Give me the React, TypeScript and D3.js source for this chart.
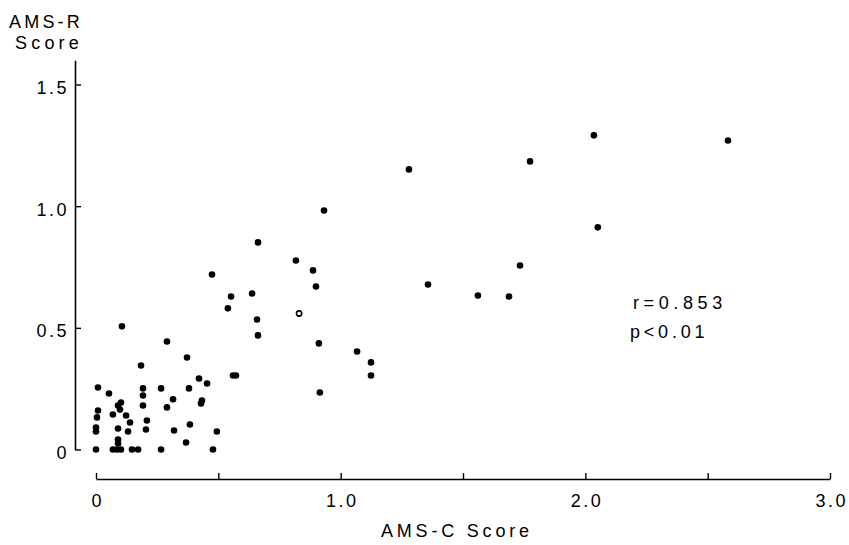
import React, { useEffect, useRef } from "react";
import * as d3 from "d3";

const amsC = [
  1.279, 1.774, 2.035, 2.583, 2.051, 1.733, 1.357, 1.561, 1.688, 0.932,
  0.662, 0.817, 0.887, 0.899, 0.474, 0.552, 0.638, 0.539, 0.658, 0.662,
  0.29, 0.911, 1.067, 1.124, 1.124, 0.372, 0.421, 0.454, 0.38, 0.266,
  0.315, 0.29, 0.433, 0.429, 0.56, 0.572, 0.915, 0.106, 0.184, 0.008,
  0.053, 0.192, 0.192, 0.102, 0.09, 0.098, 0.192, 0.008, 0.004, 0.069,
  0.123, 0.139, 0.208, 0.0, 0.0, 0.09, 0.131, 0.204, 0.319, 0.384,
  0.494, 0.09, 0.09, 0.368, 0.0, 0.069, 0.086, 0.102, 0.147, 0.172,
  0.266, 0.478,
];
const amsR = [
  1.151, 1.184, 1.291, 1.27, 0.913, 0.756, 0.678, 0.633, 0.629, 0.982,
  0.851, 0.777, 0.736, 0.67, 0.719, 0.629, 0.641, 0.58, 0.534, 0.469,
  0.444, 0.436, 0.403, 0.358, 0.304, 0.378, 0.292, 0.271, 0.251, 0.251,
  0.206, 0.173, 0.201, 0.189, 0.304, 0.304, 0.234, 0.506, 0.345, 0.255,
  0.23, 0.251, 0.222, 0.193, 0.181, 0.164, 0.181, 0.16, 0.132, 0.144,
  0.14, 0.111, 0.119, 0.09, 0.074, 0.086, 0.074, 0.082, 0.078, 0.103,
  0.074, 0.041, 0.025, 0.029, 0, 0, 0, 0, 0, 0,
  0, 0,
];
// the single open (hollow) point
const openC = [0.83];
const openR = [0.559];

const xTicks = [0, 0.5, 1.0, 1.5, 2.0, 2.5, 3.0];
const xTickLabels = ["0", "", "1.0", "", "2.0", "", "3.0"];
const yTicks = [0, 0.5, 1.0, 1.5];
const yTickLabels = ["0", "0.5", "1.0", "1.5"];

const FONT = "'Liberation Sans', Arial, Helvetica, sans-serif";

export default function App() {
  const ref = useRef<SVGSVGElement | null>(null);

  useEffect(() => {
    const svg = d3.select(ref.current);
    svg.selectAll("*").remove();

    const x = d3.scaleLinear().domain([0, 3]).range([96, 830]);
    const y = d3.scaleLinear().domain([0, 1.5]).range([449.5, 84.5]);
    const yTop = y(1.6);

    // X axis
    const xAxis = d3
      .axisBottom(x)
      .tickValues(xTicks)
      .tickSizeInner(-6)
      .tickSizeOuter(0)
      .tickFormat((_d, i) => xTickLabels[i]);
    const gx = svg.append("g").attr("transform", "translate(0,479)").call(xAxis);
    gx.select(".domain").attr("stroke", "#000").attr("stroke-width", 1.6);
    gx.selectAll(".tick line").attr("stroke", "#000").attr("stroke-width", 1.4);
    gx.selectAll(".tick text")
      .attr("y", 28)
      .attr("dy", 0)
      .attr("dx", 1.2)
      .attr("fill", "#000")
      .style("font-family", FONT)
      .style("font-size", "18px")
      .style("letter-spacing", "2.5px");

    // Y axis
    const yAxis = d3
      .axisLeft(y.copy().domain([0, 1.6]).range([449.5, yTop]))
      .tickValues(yTicks)
      .tickSizeInner(-6)
      .tickSizeOuter(0)
      .tickFormat((_d, i) => yTickLabels[i]);
    const gy = svg.append("g").attr("transform", "translate(75,0)").call(yAxis);
    gy.select(".domain").attr("stroke", "#000").attr("stroke-width", 1.6);
    gy.selectAll(".tick line").attr("stroke", "#000").attr("stroke-width", 1.4);
    gy.selectAll(".tick text")
      .attr("x", -6)
      .attr("dy", 9)
      .attr("fill", "#000")
      .style("font-family", FONT)
      .style("font-size", "18px")
      .style("letter-spacing", "2.5px");
    svg.selectAll("g").attr("font-family", null).attr("font-size", null);

    // Points
    const pts = amsC.map((c, i) => ({ c, r: amsR[i] }));
    svg
      .append("g")
      .selectAll("circle")
      .data(pts)
      .join("circle")
      .attr("cx", (d) => x(d.c))
      .attr("cy", (d) => y(d.r))
      .attr("r", 3.3)
      .attr("fill", "#000");

    const opens = openC.map((c, i) => ({ c, r: openR[i] }));
    svg
      .append("g")
      .selectAll("circle")
      .data(opens)
      .join("circle")
      .attr("cx", (d) => x(d.c))
      .attr("cy", (d) => y(d.r))
      .attr("r", 2.6)
      .attr("fill", "#fff")
      .attr("stroke", "#000")
      .attr("stroke-width", 1.6);

    const txt = (s: string, tx: number, ty: number, ls: number) =>
      svg
        .append("text")
        .attr("x", tx)
        .attr("y", ty)
        .attr("fill", "#000")
        .style("font-family", FONT)
        .style("font-size", "18px")
        .style("letter-spacing", `${ls}px`)
        .text(s);

    txt("AMS-R", 9, 27.5, 3.2);
    txt("Score", 15, 48.5, 4.2);
    txt("AMS-C Score", 381, 537, 3.8);
    txt("r=0.853", 633, 309, 4.6);
    txt("p<0.01", 630, 338, 3.8);
  }, []);

  return (
    <svg
      ref={ref}
      width={849}
      height={545}
      style={{ position: "absolute", left: 0, top: 0, background: "#fff" }}
    />
  );
}
